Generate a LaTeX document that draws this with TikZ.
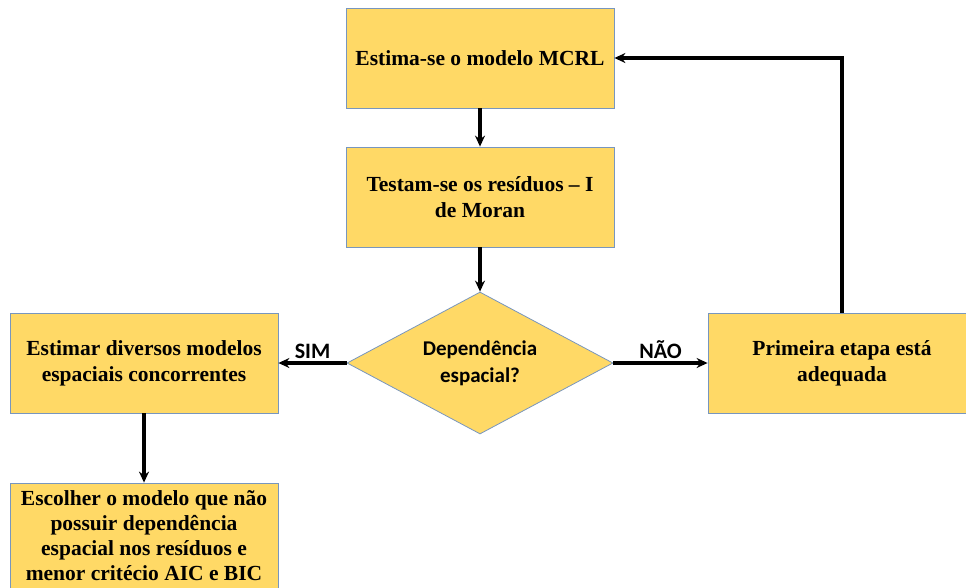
\documentclass[tikz,border=0pt]{standalone}
\usepackage{fontspec}
\setmainfont{Liberation Serif}
\newfontfamily\calibrifont{Carlito}
\usetikzlibrary{shapes.geometric,arrows.meta}
\definecolor{boxfill}{RGB}{255,217,102}
\definecolor{boxline}{RGB}{120,150,190}
\begin{document}
\begin{tikzpicture}[x=1pt,y=-1pt,
  box/.style={draw=boxline, fill=boxfill, line width=0.8pt, minimum width=268pt, minimum height=100pt, inner sep=0pt, align=center, font=\fontsize{21.5}{26}\selectfont\bfseries},
  decision/.style={diamond, draw=boxline, fill=boxfill, line width=0.8pt, minimum width=266pt, minimum height=142pt, aspect=1.87, inner sep=0pt, align=center, font=\calibrifont\fontsize{21}{27}\selectfont\bfseries},
  lbl/.style={font=\calibrifont\fontsize{22}{24}\selectfont\bfseries, inner sep=2.5pt},
  arr/.style={-{Stealth[length=11pt,width=10pt]}, line width=3.2pt}]
\useasboundingbox (0,0) rectangle (966,587);
\clip (0,0) rectangle (966,587);
\node[box] (b1) at (480,58) {Estima-se o modelo MCRL};
\node[box] (b2) at (480,197) {Testam-se os resíduos – I\\de Moran};
\node[decision] (d) at (480,363) {Dependência\\espacial?};
\node[box] (l) at (144,363) {Estimar diversos modelos\\espaciais concorrentes};
\node[box] (r) at (842,363) {Primeira etapa está\\adequada};
\node[box, minimum height=106pt, font=\fontsize{21.5}{25}\selectfont\bfseries] (bot) at (144,536) {Escolher o modelo que não\\possuir dependência\\espacial nos resíduos e\\menor critécio AIC e BIC};
\draw[arr] (b1) -- (b2);
\draw[arr] (b2) -- (d);
\draw[arr] (d) -- node[lbl, above] {SIM} (l);
\draw[arr] (d) -- node[lbl, above] {NÃO} (r);
\draw[arr] (l) -- (bot);
\draw[arr] (r.north) |- (b1.east);
\end{tikzpicture}
\end{document}
